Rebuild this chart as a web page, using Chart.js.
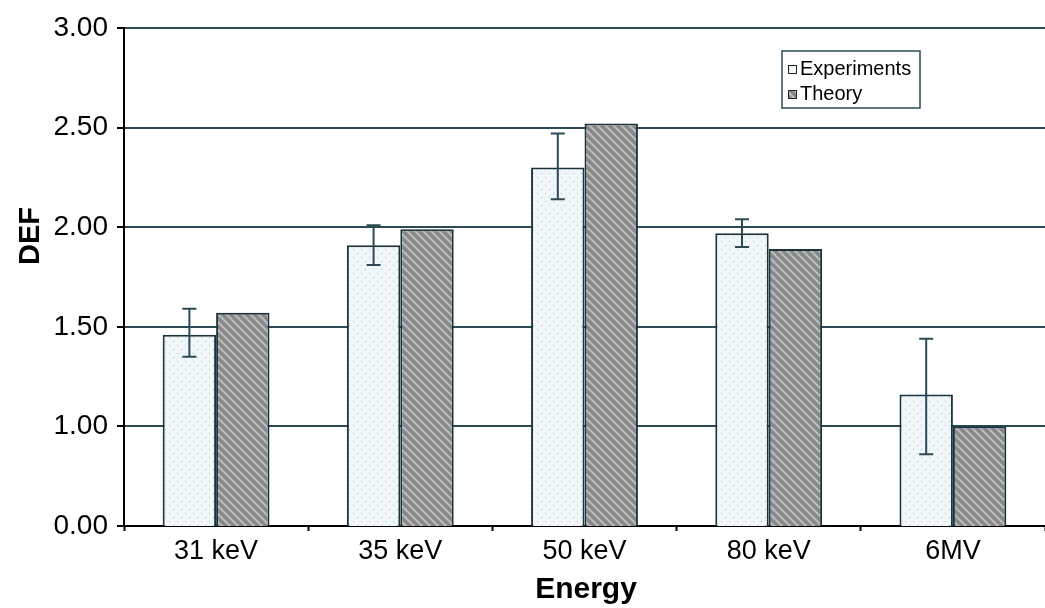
<!DOCTYPE html>
<html>
<head>
<meta charset="utf-8">
<script src="https://cdn.jsdelivr.net/npm/chart.js@4.4.0/dist/chart.umd.min.js"></script>
<style>
  html, body { margin: 0; padding: 0; background: #fff; }
  #wrap { width: 1045px; height: 608px; }
</style>
</head>
<body>
<div id="wrap"><canvas id="grafico"></canvas></div>
<script>
// datos
const categorias = ['31 keV', '35 keV', '50 keV', '80 keV', '6MV'];
const experimentos = [1.46, 1.91, 2.30, 1.97, 1.16];
const errorArriba = [1.59, 2.01, 2.47, 2.04, 1.44];
const errorAbajo = [1.35, 1.81, 2.14, 1.90, 0.86];
const teoria = [1.57, 1.99, 2.52, 1.89, 1.00];
const ticksY = [3.00, 2.50, 2.00, 1.50, 1.00, 0.50];
const etiquetasY = ['3.00', '2.50', '2.00', '1.50', '1.00', '0.00'];

const fuente = '"Liberation Sans", Arial, sans-serif';
const colorLinea = '#2c4a55';

// patron de puntos para experimentos
function patronPuntos() {
    const c = document.createElement('canvas');
    c.width = 8; c.height = 8;
    const x = c.getContext('2d');
    x.fillStyle = '#f1f6f9';
    x.fillRect(0, 0, 8, 8);
    x.fillStyle = '#a9c3d3';
    x.fillRect(1, 1, 1, 1);
    x.fillRect(5, 5, 1, 1);
    return x.createPattern(c, 'repeat');
}

// patron rayado para teoria
function patronRayas() {
    const c = document.createElement('canvas');
    c.width = 8; c.height = 8;
    const x = c.getContext('2d');
    x.fillStyle = '#888888';
    x.fillRect(0, 0, 8, 8);
    x.strokeStyle = '#bdbdbd';
    x.lineWidth = 2;
    x.beginPath();
    x.moveTo(-2, -2); x.lineTo(10, 10);
    x.moveTo(-6, 2); x.lineTo(2, 10);
    x.moveTo(6, -2); x.lineTo(10, 2);
    x.stroke();
    return x.createPattern(c, 'repeat');
}

const extras = {
    id: 'extras',
    afterDatasetsDraw(chart) {
        const ctx = chart.ctx;
        const y = chart.scales.y;
        const meta = chart.getDatasetMeta(0);
        ctx.save();
        ctx.strokeStyle = colorLinea;
        ctx.lineWidth = 2;
        meta.data.forEach((bar, i) => {
            const cx = bar.x;
            const yA = y.getPixelForValue(errorArriba[i]);
            const yB = y.getPixelForValue(errorAbajo[i]);
            ctx.beginPath();
            ctx.moveTo(cx, yA); ctx.lineTo(cx, yB);
            ctx.moveTo(cx - 7, yA); ctx.lineTo(cx + 7, yA);
            ctx.moveTo(cx - 7, yB); ctx.lineTo(cx + 7, yB);
            ctx.stroke();
        });
        ctx.restore();
    },
    afterDraw(chart) {
        const ctx = chart.ctx;
        ctx.save();
        // titulos de los ejes
        ctx.fillStyle = '#000';
        ctx.font = 'bold 30px ' + fuente;
        ctx.textAlign = 'center';
        ctx.textBaseline = 'middle';
        ctx.fillText('Energy', 586, 590);
        ctx.translate(31, 236);
        ctx.rotate(-Math.PI / 2);
        ctx.font = 'bold 29px ' + fuente;
        ctx.fillText('DEF', 0, 0);
        ctx.restore();

        // leyenda
        ctx.save();
        ctx.strokeStyle = colorLinea;
        ctx.lineWidth = 1.5;
        ctx.strokeRect(782, 51, 138, 57);
        ctx.font = '20px ' + fuente;
        ctx.textAlign = 'left';
        ctx.textBaseline = 'middle';
        const items = chart.data.datasets;
        items.forEach((d, i) => {
            const yy = 69 + i * 25;
            ctx.fillStyle = d.backgroundColor;
            ctx.fillRect(788, yy - 4, 9, 9);
            ctx.strokeStyle = '#222';
            ctx.lineWidth = 1;
            ctx.strokeRect(788.5, yy - 3.5, 8, 8);
            ctx.fillStyle = '#000';
            ctx.fillText(d.label, 800, yy);
        });
        ctx.restore();
    }
};

new Chart(document.getElementById('grafico'), {
    type: 'bar',
    data: {
        labels: categorias,
        datasets: [
            {
                label: 'Experiments',
                data: experimentos,
                backgroundColor: patronPuntos(),
                borderColor: '#1a333c',
                borderWidth: 2,
                borderSkipped: 'bottom',
                categoryPercentage: 0.58,
                barPercentage: 1
            },
            {
                label: 'Theory',
                data: teoria,
                backgroundColor: patronRayas(),
                borderColor: '#1a333c',
                borderWidth: 2,
                borderSkipped: 'bottom',
                categoryPercentage: 0.58,
                barPercentage: 1
            }
        ]
    },
    options: {
        responsive: true,
        maintainAspectRatio: false,
        animation: false,
        layout: { padding: { top: 28, right: 0, left: 0, bottom: 0 } },
        plugins: {
            legend: { display: false },
            tooltip: { enabled: false }
        },
        scales: {
            x: {
                grid: {
                    display: true,
                    drawOnChartArea: false,
                    color: '#000',
                    tickLength: 5,
                    tickWidth: 2
                },
                border: { display: true, color: '#000', width: 2 },
                ticks: {
                    color: '#000',
                    font: { family: fuente, size: 27 },
                    padding: 4
                },
                afterFit(scale) { scale.height = 82; }
            },
            y: {
                min: 0.5,
                max: 3,
                afterBuildTicks(scale) {
                    scale.ticks = ticksY.map(v => ({ value: v }));
                },
                grid: {
                    color: colorLinea,
                    lineWidth: 2,
                    tickLength: 7,
                    tickColor: '#000'
                },
                border: { display: true, color: '#000', width: 2 },
                ticks: {
                    color: '#000',
                    font: { family: fuente, size: 28 },
                    padding: 9,
                    callback: (v) => etiquetasY[ticksY.indexOf(v)]
                },
                afterFit(scale) { scale.width = 124; }
            }
        }
    },
    plugins: [extras]
});
</script>
</body>
</html>
